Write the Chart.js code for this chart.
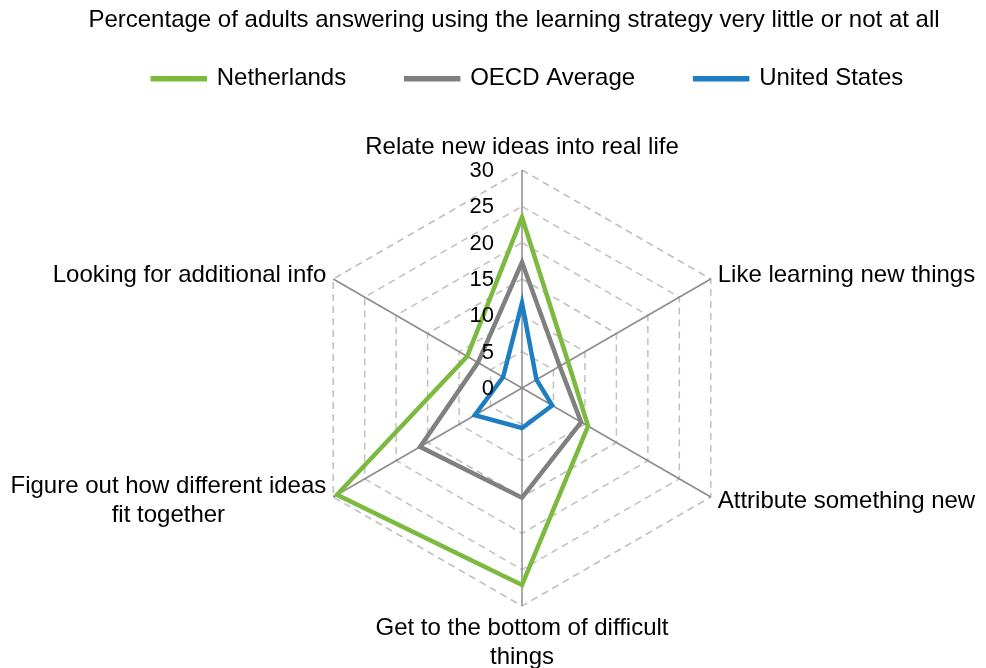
<!DOCTYPE html>
<html>
<head>
<meta charset="utf-8">
<script src="https://cdn.jsdelivr.net/npm/chart.js@4/dist/chart.umd.min.js"></script>
<style>
  html, body { margin: 0; padding: 0; background: #fff; }
  #wrap { width: 986px; height: 668px; }
</style>
</head>
<body>
<div id="wrap"><canvas id="radar"></canvas></div>
<script>
const categories = [
    'Relate new ideas into real life',
    'Like learning new things',
    'Attribute something new',
    ['Get to the bottom of difficult', 'things'],
    ['Figure out how different ideas', 'fit together'],
    'Looking for additional info'
]
const netherlands = [23.5, 7.3, 10.5, 27.1, 29.4, 8.7]
const oecdAverage = [17.3, 6.0, 9.4, 15.1, 16.2, 7.0]
const unitedStates = [11.7, 2.3, 4.8, 5.5, 7.5, 3.0]
const tickValues = [0, 5, 10, 15, 20, 25, 30]

const FONT = 'Liberation Sans, Arial, sans-serif'
const LEGEND_GAP = 60     // horizontal gap between legend items
const LEGEND_SHIFT = 52   // trim of the vertical legend padding
const LEGEND_NUDGE = 14   // legend sits a bit right of the title in the original
const LABEL_PAD = 8

// radar geometry of the original (the built-in fit is too conservative with long labels)
const RADAR_CX = 522
const RADAR_CY = 388
const RADAR_R = 218

const radarGeometryPlugin = {
    id: 'radarGeometry',
    afterLayout(chart) {
        const s = chart.scales.r
        const before = categories.map((c, i) => s.getPointPosition(i, s.drawingArea + LABEL_PAD))
        s.xCenter = RADAR_CX
        s.yCenter = RADAR_CY
        s.drawingArea = RADAR_R
        ;(s._pointLabelItems || []).forEach((item, i) => {
            const p = s.getPointPosition(i, s.drawingArea + LABEL_PAD)
            let dx = p.x - before[i].x
            let dy = p.y - before[i].y
            const angle = Math.round(s.getIndexAngle(i) * 180 / Math.PI) % 360
            if (angle !== 0 && angle !== 180) {
                // side labels are centred on the spoke end vertically
                const h = item.bottom - item.top
                dy = (p.y - h / 2) - item.top
            }
            item.x += dx; item.left += dx; item.right += dx
            item.y += dy; item.top += dy; item.bottom += dy
            if (Array.isArray(categories[i]) && angle !== 0 && angle !== 180) {
                item.textAlign = 'center'
                item.x = (item.left + item.right) / 2
            }
        })
    }
}

// tick labels sit to the left of the top axis, like the original
const tickLabelsPlugin = {
    id: 'tickLabels',
    afterDraw(chart) {
        const scale = chart.scales.r
        const ctx = chart.ctx
        ctx.save()
        ctx.font = '22px ' + FONT
        ctx.fillStyle = '#000'
        ctx.textAlign = 'right'
        ctx.textBaseline = 'middle'
        tickValues.forEach(v => {
            const d = scale.getDistanceFromCenterForValue(v)
            ctx.fillText(String(v), scale.xCenter - 28, scale.yCenter - d + 1)
        })
        ctx.restore()
    }
}

// legend padding is used both ways; keep the wide horizontal gap but trim the vertical one
const legendTrimPlugin = {
    id: 'legendTrim',
    afterInit(chart) {
        const legend = chart.legend
        if (!legend) return
        const fit = legend.fit
        legend.fit = function () {
            fit.call(this)
            this.height -= LEGEND_SHIFT
        }
        const draw = legend.draw
        legend.draw = function () {
            const { top, left, right } = this
            this.top -= LEGEND_SHIFT
            this.left += LEGEND_NUDGE
            this.right += LEGEND_NUDGE
            draw.call(this)
            this.top = top
            this.left = left
            this.right = right
        }
    }
}

const series = [
    { label: 'Netherlands', data: netherlands, color: '#7CBA3F' },
    { label: 'OECD Average', data: oecdAverage, color: '#808080' },
    { label: 'United States', data: unitedStates, color: '#1F7DC1' }
]

new Chart(document.getElementById('radar'), {
    type: 'radar',
    data: {
        labels: categories,
        datasets: series.map(s => ({
            label: s.label,
            data: s.data,
            borderColor: s.color,
            backgroundColor: s.color,
            borderWidth: 4.5,
            fill: false,
            pointRadius: 0,
            pointHoverRadius: 0,
            tension: 0
        }))
    },
    options: {
        responsive: true,
        maintainAspectRatio: false,
        animation: false,
        layout: { padding: { left: 42, right: 0, top: 0, bottom: 0 } },
        plugins: {
            title: {
                display: true,
                text: 'Percentage of adults answering using the learning strategy very little or not at all',
                color: '#000',
                font: { family: FONT, size: 24, weight: 'normal' },
                padding: { top: 6, bottom: 24 }
            },
            legend: {
                position: 'top',
                labels: {
                    boxWidth: 52,
                    boxHeight: 1,
                    padding: LEGEND_GAP,
                    color: '#000',
                    font: { family: FONT, size: 24 }
                }
            },
            tooltip: { enabled: false }
        },
        scales: {
            r: {
                min: 0,
                max: 30,
                ticks: { stepSize: 5, display: false },
                grid: {
                    color: '#C0C0C0',
                    lineWidth: 1.5
                },
                border: {
                    dash: [7, 5]
                },
                angleLines: {
                    color: '#8C8C8C',
                    lineWidth: 1.5
                },
                pointLabels: {
                    color: '#000',
                    padding: LABEL_PAD,
                    font: { family: FONT, size: 24 }
                }
            }
        }
    },
    plugins: [radarGeometryPlugin, tickLabelsPlugin, legendTrimPlugin]
})
</script>
</body>
</html>
